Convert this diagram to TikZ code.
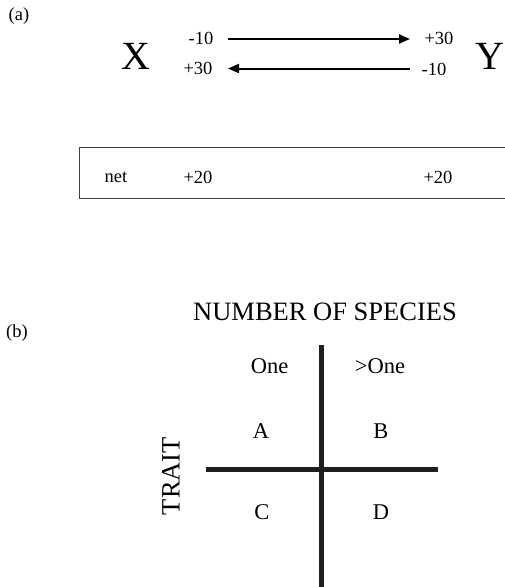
\documentclass[tikz,border=0pt]{standalone}
\usepackage{fontspec}
\setmainfont{Liberation Serif}
\usetikzlibrary{arrows.meta}
\begin{document}
\begin{tikzpicture}[x=1pt,y=-1pt,
  small/.style={inner sep=0pt,font=\fontsize{18.5}{21}\selectfont},
  big/.style={inner sep=0pt,font=\fontsize{40}{44}\selectfont},
  mid/.style={inner sep=0pt,font=\fontsize{22.5}{26}\selectfont},
  head/.style={inner sep=0pt,font=\fontsize{26.5}{30}\selectfont},
  flow/.style={line width=2pt,-{Triangle[length=11pt,width=9pt]}},
  axis/.style={line width=4.5pt,color=black!88},
  boxline/.style={line width=1pt,color=black!75}]
\useasboundingbox (0,0) rectangle (505,587);
% (a)
\node[small] (la) at (19,16) {(a)};
\node[big] (X) at (136,56) {X};
\node[big] (Y) at (490,56) {Y};
\node[small] (xt) at (201,38) {-10};
\node[small] (yt) at (439,38) {+30};
\node[small] (xb) at (198,68) {+30};
\node[small] (yb) at (434,69) {-10};
\coordinate (a1s) at (228,39);
\coordinate (a1e) at (410,39);
\coordinate (a2s) at (410,68.5);
\coordinate (a2e) at (228,68.5);
\draw[flow] (a1s) -- (a1e);
\draw[flow] (a2s) -- (a2e);
\coordinate (bxr1) at (505,147.5);
\coordinate (bxl1) at (79.5,147.5);
\coordinate (bxl2) at (79.5,198.5);
\coordinate (bxr2) at (505,198.5);
\draw[boxline] (bxr1) -- (bxl1) -- (bxl2) -- (bxr2);
\node[small] (net) at (116,177) {net};
\node[small] (n1) at (198,177) {+20};
\node[small] (n2) at (438,177) {+20};
% (b)
\node[small] (lb) at (17,333) {(b)};
\node[head] (title) at (325,312) {NUMBER OF SPECIES};
\node[mid] (one) at (269.5,366) {One};
\node[mid] (more) at (380,366) {>One};
\node[mid] (A) at (261,431) {A};
\node[mid] (B) at (381,431) {B};
\node[mid] (C) at (262,512) {C};
\node[mid] (D) at (381,512) {D};
\node[head,rotate=90] (trait) at (171,476) {TRAIT};
\coordinate (vt) at (321.7,345);
\coordinate (vb) at (321.7,587);
\coordinate (hl) at (206,469.3);
\coordinate (hr) at (438,469.3);
\draw[axis] (vt) -- (vb);
\draw[axis] (hl) -- (hr);
\end{tikzpicture}
\end{document}
